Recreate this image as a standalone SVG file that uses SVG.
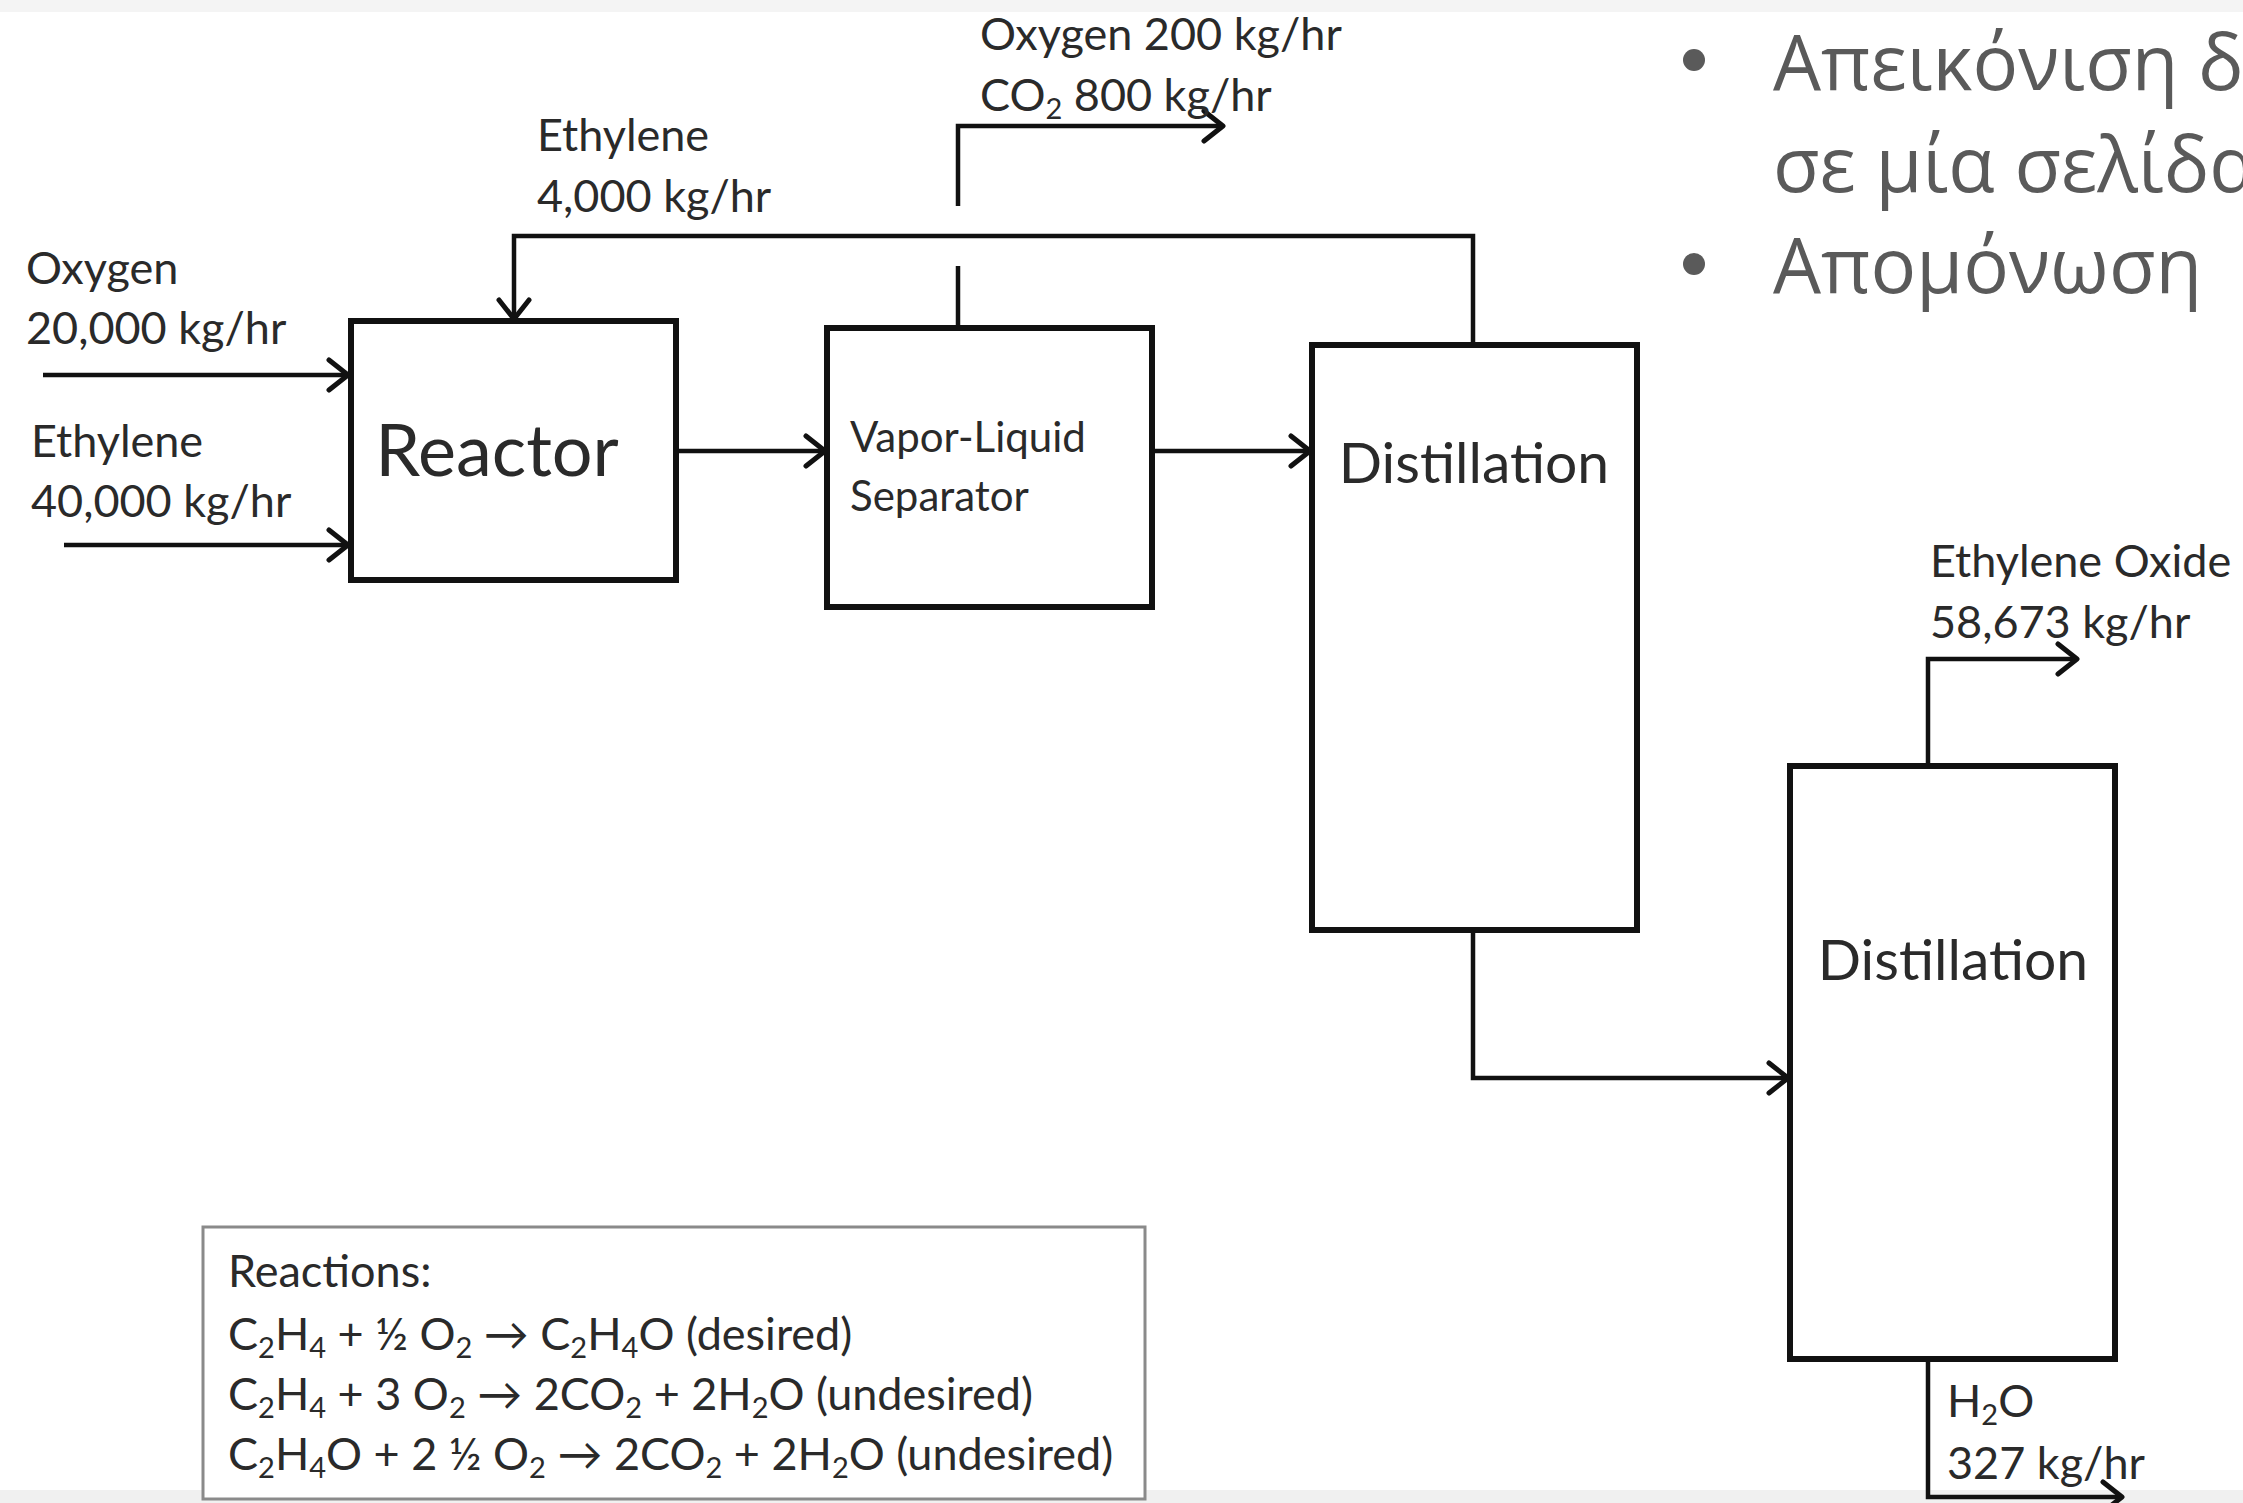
<svg xmlns="http://www.w3.org/2000/svg" width="2243" height="1503" viewBox="0 0 2243 1503">
<defs>
<marker id="arr" markerUnits="userSpaceOnUse" markerWidth="26" markerHeight="36" viewBox="0 0 26 36" refX="22" refY="18" orient="auto">
<path d="M3,3 L22,18 L3,33" fill="none" stroke="#111" stroke-width="5" stroke-linecap="round" stroke-linejoin="round"/>
</marker>
<style>
.box{fill:#fff;stroke:#111;stroke-width:6}
.ln{fill:none;stroke:#111;stroke-width:4.5}
.t{font-family:Lato,'Noto Sans',sans-serif;fill:#2a2a2a;font-size:45px}
.big{font-size:72px}
.mid{font-size:57px}
.sm{font-size:42px}
.sub{font-size:29px}
.gr{font-family:'Open Sans','Noto Sans',sans-serif;fill:#5a5a5a;font-size:76px}
</style>
</defs>
<rect x="0" y="0" width="2243" height="1503" fill="#fff"/>
<rect x="0" y="0" width="2243" height="12" fill="#f4f4f4"/>
<rect x="0" y="1490" width="2243" height="13" fill="#f0f0f0"/>

<g id="connectors">
<path class="ln" d="M43,375 H348" marker-end="url(#arr)"/>
<path class="ln" d="M64,545 H348" marker-end="url(#arr)"/>
<path class="ln" d="M676,451 H825" marker-end="url(#arr)"/>
<path class="ln" d="M958,328 V266"/>
<path class="ln" d="M958,206 V126 H1223" marker-end="url(#arr)"/>
<path class="ln" d="M1473,345 V236 H514 V319" marker-end="url(#arr)"/>
<path class="ln" d="M1152,451 H1310" marker-end="url(#arr)"/>
<path class="ln" d="M1473,930 V1078 H1788" marker-end="url(#arr)"/>
<path class="ln" d="M1928,766 V659 H2077" marker-end="url(#arr)"/>
<path class="ln" d="M1928,1359 V1497 H2122" marker-end="url(#arr)"/>
</g>

<g id="reactor">
<rect class="box" x="351" y="321" width="325" height="259"/>
<text class="t big" x="497" y="476" text-anchor="middle">Reactor</text>
</g>
<g id="separator">
<rect class="box" x="827" y="328" width="325" height="279"/>
<text class="t sm" x="850" y="452">Vapor-Liquid</text>
<text class="t sm" x="850" y="511">Separator</text>
</g>
<g id="distillation1">
<rect class="box" x="1312" y="345" width="325" height="585"/>
<text class="t mid" x="1474" y="483" text-anchor="middle">Distillation</text>
</g>
<g id="distillation2">
<rect class="box" x="1790" y="766" width="325" height="593"/>
<text class="t mid" x="1953" y="980" text-anchor="middle">Distillation</text>
</g>

<g id="labels">
<text class="t" x="26" y="284">Oxygen</text>
<text class="t" x="26" y="344">20,000 kg/hr</text>
<text class="t" x="31" y="457">Ethylene</text>
<text class="t" x="31" y="517">40,000 kg/hr</text>
<text class="t" x="537" y="151">Ethylene</text>
<text class="t" x="537" y="212">4,000 kg/hr</text>
<text class="t" x="980" y="50">Oxygen 200 kg/hr</text>
<text class="t" x="980" y="111">CO<tspan class="sub" dy="8">2</tspan><tspan dy="-8"> 800 kg/hr</tspan></text>
<text class="t" x="1930" y="577">Ethylene Oxide</text>
<text class="t" x="1930" y="638">58,673 kg/hr</text>
<text class="t" x="1947" y="1417">H<tspan class="sub" dy="8">2</tspan><tspan dy="-8">O</tspan></text>
<text class="t" x="1947" y="1479">327 kg/hr</text>
</g>

<g id="reactions">
<rect x="203" y="1227" width="942" height="272" fill="#fff" stroke="#8a8a8a" stroke-width="3"/>
<text class="t" x="228" y="1287">Reactions:</text>
<text class="t" x="228" y="1350">C<tspan class="sub" dy="8">2</tspan><tspan dy="-8">H</tspan><tspan class="sub" dy="8">4</tspan><tspan dy="-8"> + ½ O</tspan><tspan class="sub" dy="8">2</tspan><tspan dy="-8"> → C</tspan><tspan class="sub" dy="8">2</tspan><tspan dy="-8">H</tspan><tspan class="sub" dy="8">4</tspan><tspan dy="-8">O (desired)</tspan></text>
<text class="t" x="228" y="1410">C<tspan class="sub" dy="8">2</tspan><tspan dy="-8">H</tspan><tspan class="sub" dy="8">4</tspan><tspan dy="-8"> + 3 O</tspan><tspan class="sub" dy="8">2</tspan><tspan dy="-8"> → 2CO</tspan><tspan class="sub" dy="8">2</tspan><tspan dy="-8"> + 2H</tspan><tspan class="sub" dy="8">2</tspan><tspan dy="-8">O (undesired)</tspan></text>
<text class="t" x="228" y="1470">C<tspan class="sub" dy="8">2</tspan><tspan dy="-8">H</tspan><tspan class="sub" dy="8">4</tspan><tspan dy="-8">O + 2 ½ O</tspan><tspan class="sub" dy="8">2</tspan><tspan dy="-8"> → 2CO</tspan><tspan class="sub" dy="8">2</tspan><tspan dy="-8"> + 2H</tspan><tspan class="sub" dy="8">2</tspan><tspan dy="-8">O (undesired)</tspan></text>
</g>

<g id="bullets">
<circle cx="1694" cy="60" r="11" fill="#5a5a5a"/>
<text class="gr" x="1773" y="90">Απεικόνιση δ</text>
<text class="gr" x="1773" y="192">σε μία σελίδα</text>
<circle cx="1694" cy="264" r="11" fill="#5a5a5a"/>
<text class="gr" x="1773" y="293">Απομόνωση</text>
</g>
</svg>
